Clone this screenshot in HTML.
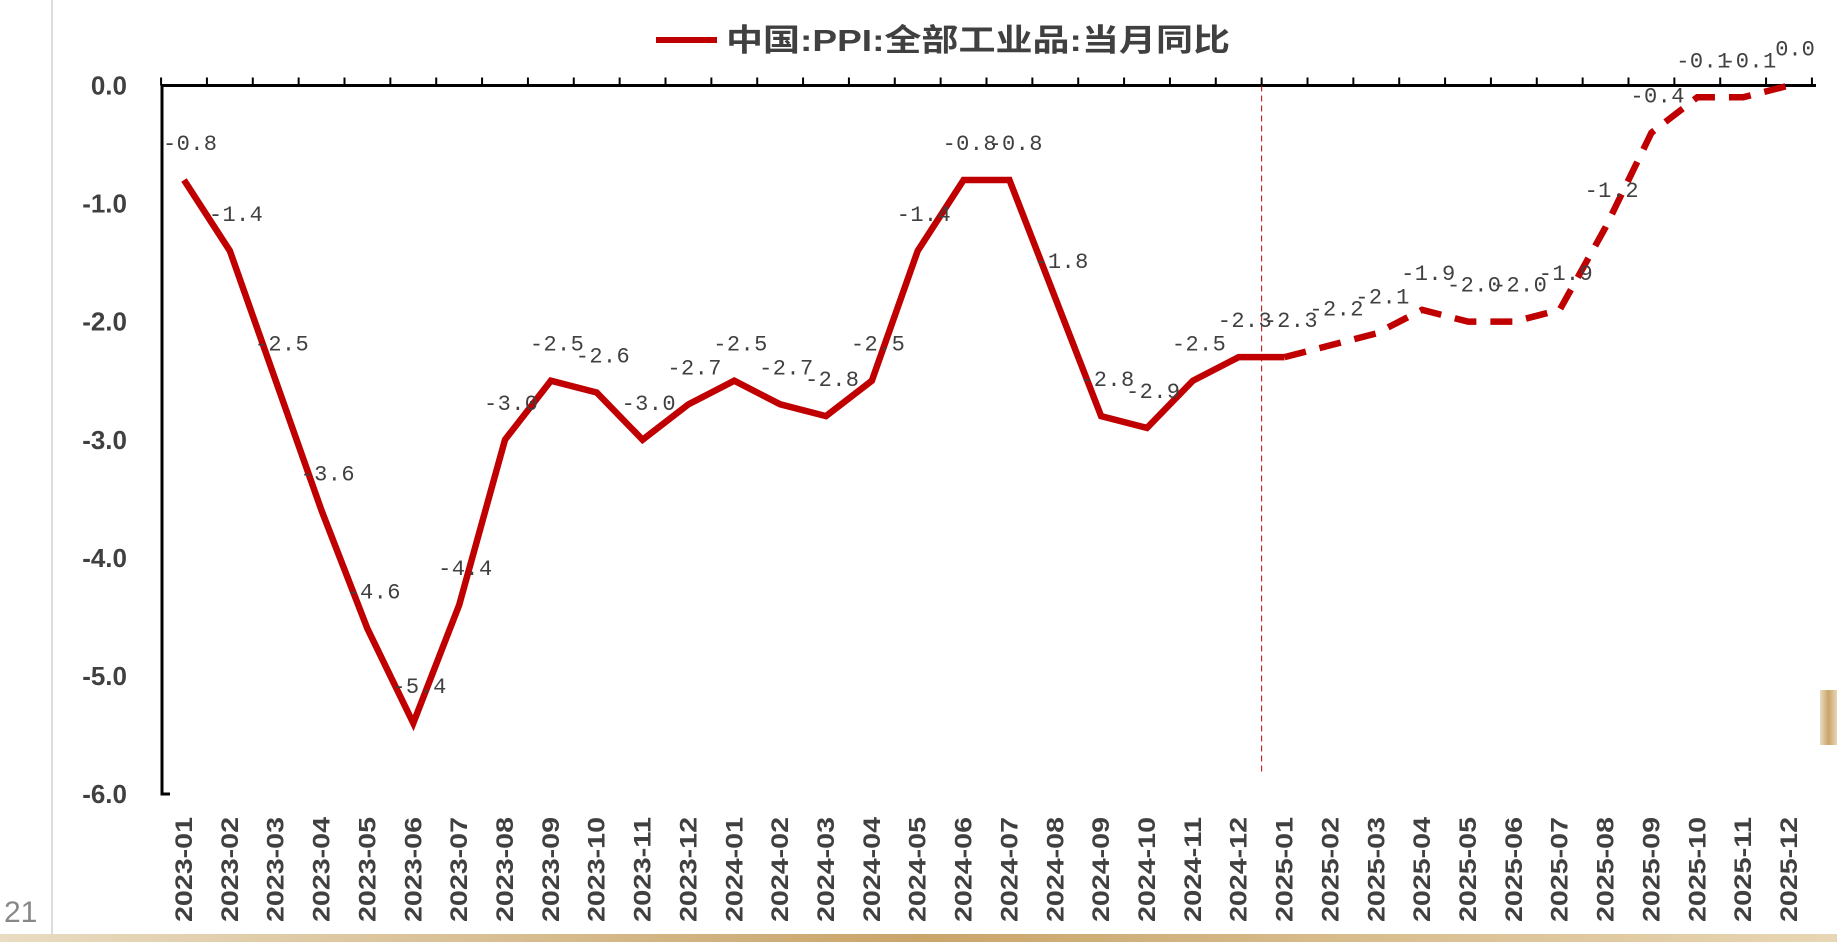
<!DOCTYPE html>
<html><head><meta charset="utf-8"><style>
html,body{margin:0;padding:0;background:#fff;width:1837px;height:942px;overflow:hidden}
svg{display:block}
</style></head><body>
<svg id="chart" width="1837" height="942" viewBox="0 0 1837 942">
<defs><linearGradient id="gold" x1="0" x2="1"><stop offset="0" stop-color="#e9dcc2"/><stop offset="0.5" stop-color="#c9a56a"/><stop offset="1" stop-color="#e8d6b4"/></linearGradient></defs>
<rect x="0" y="934" width="1837" height="8" fill="url(#gold)"/>
<rect x="1820" y="690" width="17" height="55" fill="url(#gold)"/>
<line x1="52" y1="0" x2="52" y2="934" stroke="#d0d0d0" stroke-width="1.5"/>
<text x="4" y="922" font-family="Liberation Sans, sans-serif" font-size="30" fill="#888">21</text>
<g>
<line x1="656" y1="40" x2="717" y2="40" stroke="#c00000" stroke-width="6"/>
<text x="726" y="51" font-family="Liberation Sans, 'Noto Sans CJK SC', sans-serif" font-size="31" font-weight="bold" fill="#404040" textLength="504" lengthAdjust="spacingAndGlyphs">中国:PPI:全部工业品:当月同比</text>
</g>
<g id="axes"></g>
<g id="marks"></g>
</svg>
<script>
const categories=["2023-01","2023-02","2023-03","2023-04","2023-05","2023-06","2023-07","2023-08","2023-09","2023-10","2023-11","2023-12","2024-01","2024-02","2024-03","2024-04","2024-05","2024-06","2024-07","2024-08","2024-09","2024-10","2024-11","2024-12","2025-01","2025-02","2025-03","2025-04","2025-05","2025-06","2025-07","2025-08","2025-09","2025-10","2025-11","2025-12"];
const values=[-0.8,-1.4,-2.5,-3.6,-4.6,-5.4,-4.4,-3.0,-2.5,-2.6,-3.0,-2.7,-2.5,-2.7,-2.8,-2.5,-1.4,-0.8,-0.8,-1.8,-2.8,-2.9,-2.5,-2.3,-2.3,-2.2,-2.1,-1.9,-2.0,-2.0,-1.9,-1.2,-0.4,-0.1,-0.1,0.0];
const yTicks=[0,-1,-2,-3,-4,-5,-6];
const solidEndIndex=24;
const NS="http://www.w3.org/2000/svg";
const x0=184,step=(1789-184)/35,y0=85.5,yScale=(794-85.5)/6;
function xPos(i){return x0+i*step;}
function yPos(v){return y0-v*yScale;}
function mk(tag,attrs,parent){const e=document.createElementNS(NS,tag);for(const k in attrs)e.setAttribute(k,attrs[k]);parent.appendChild(e);return e;}
const axes=document.getElementById('axes'),marks=document.getElementById('marks');
let e;
e=mk('line',{x1:162,y1:yPos(0),x2:1816,y2:yPos(0),stroke:'#000','stroke-width':3},axes);


e=mk('path',{d:`M162 ${yPos(0)} L162 ${yPos(-6)} L170 ${yPos(-6)}`,stroke:'#000','stroke-width':3,fill:'none'},axes);


for(let i=0;i<=categories.length;i++){
  const tx=xPos(i)-step/2;
  e=mk('line',{x1:tx,y1:yPos(0),x2:tx,y2:yPos(0)-8,stroke:'#000','stroke-width':2},axes);
  
  
}
yTicks.forEach(v=>{
  e=mk('text',{x:127,y:yPos(v)+9,'text-anchor':'end','font-family':'Liberation Sans, sans-serif','font-size':26,'font-weight':'bold',fill:'#404040'},axes);
  e.textContent=v.toFixed(1);
  
  
});
categories.forEach((c,i)=>{
  const x=xPos(i)+8,y=922;
  e=mk('text',{x:x,y:y,transform:`rotate(-90 ${x} ${y})`,'font-family':'Liberation Sans, sans-serif','font-size':24,'font-weight':'bold',fill:'#404040',textLength:105,lengthAdjust:'spacingAndGlyphs'},axes);
  e.textContent=c;
  
  
});
const dx=(xPos(solidEndIndex-1)+xPos(solidEndIndex))/2;
e=mk('line',{x1:dx,y1:yPos(0),x2:dx,y2:773,stroke:'#c00000','stroke-width':1,'stroke-dasharray':'6 4'},axes);


const solidPts=values.slice(0,solidEndIndex+1).map((v,i)=>xPos(i)+','+yPos(v)).join(' ');
e=mk('polyline',{points:solidPts,fill:'none',stroke:'#c00000','stroke-width':6.5,'stroke-linejoin':'miter'},marks);


const dashPts=values.slice(solidEndIndex).map((v,i)=>xPos(i+solidEndIndex)+','+yPos(v)).join(' ');
e=mk('polyline',{points:dashPts,fill:'none',stroke:'#c00000','stroke-width':6.5,'stroke-dasharray':'22 14'},marks);


values.forEach((v,i)=>{
  const txt=v.toFixed(1);
  const attrs={x:xPos(i)+6,y:yPos(v)-30,'text-anchor':'middle','font-family':'Liberation Mono, monospace','font-size':22,fill:'#404040'};
  if(txt.length===4){attrs.textLength=54;attrs.lengthAdjust='spacing';}
  e=mk('text',attrs,marks);
  e.textContent=txt;
  
  
});
</script>
</body></html>
